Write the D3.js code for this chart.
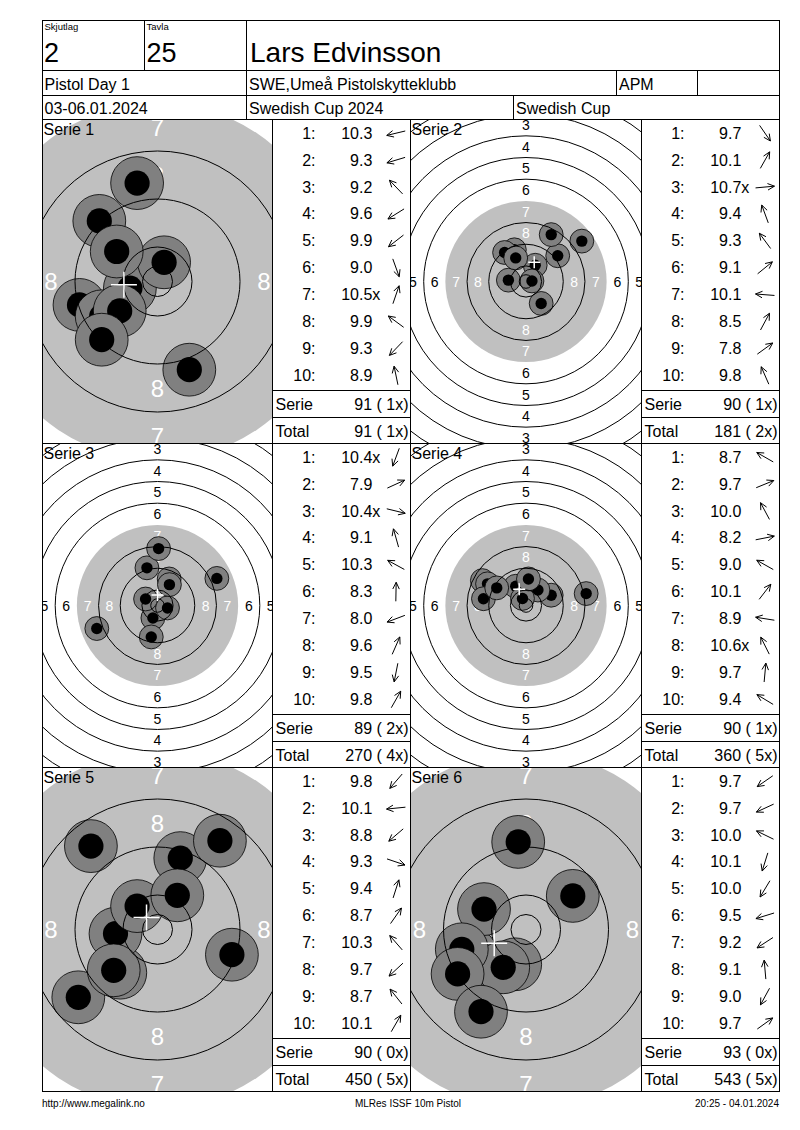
<!DOCTYPE html>
<html>
<head>
<meta charset="utf-8">
<script src="https://cdn.jsdelivr.net/npm/d3@7"></script>
<style>
body { margin: 0; background: #fff; }
svg text { font-family: "Liberation Sans", Arial, sans-serif; fill: #000; }
</style>
</head>
<body>
<div id="sheet"></div>
<script>
// header texts
var squad = "2", lane = "25", shooterName = "Lars Edvinsson";
var eventName = "Pistol Day 1", club = "SWE,Umeå Pistolskytteklubb", shooterClass = "APM";
var dates = "03-06.01.2024", competition = "Swedish Cup 2024", cupName = "Swedish Cup";
var footerLeft = "http://www.megalink.no", footerMid = "MLRes ISSF 10m Pistol", footerRight = "20:25 - 04.01.2024";

var seriesLabels = ["Serie 1", "Serie 2", "Serie 3", "Serie 4", "Serie 5", "Serie 6"];
// targets drawn close-up (the others show the whole target)
var zoomedSeries = [true, false, false, false, true, true];

// scores and shot positions (mm from centre, y up)
var scores1 = ["10.3", "9.3", "9.2", "9.6", "9.9", "9.0", "10.5x", "9.9", "9.3", "8.9"];
var shotX1 = [-4.6, -13.0, -9.7, -9.3, -6.3, 5.3, 1.1, -6.8, -9.3, -3.4];
var shotY1 = [-1.1, -3.9, 10.1, -5.8, -4.9, -14.7, 3.2, 5.0, -9.7, 16.4];

var scores2 = ["9.7", "10.1", "10.7x", "9.4", "9.3", "9.1", "10.1", "8.5", "7.8", "9.8"];
var shotX2 = [5.6, 3.4, 2.2, -4.3, -7.9, 11.7, -6.5, 9.3, 20.6, -3.8];
var shotY2 = [-8.1, 6.0, 0.2, 11.7, 10.7, 9.5, 0.5, 17.3, 14.9, 8.7];

var scores3 = ["10.4x", "7.9", "10.4x", "9.1", "10.3", "8.3", "8.0", "9.6", "9.5", "9.8"];
var shotX3 = [-1.7, 21.9, 3.7, -3.9, -4.4, 0.4, -22.4, 4.3, -2.3, 4.4];
var shotY3 = [-4.6, 10.0, -0.9, 13.9, 2.4, 21.0, -8.5, 9.8, -11.6, 7.7];

var scores4 = ["8.7", "9.7", "10.0", "8.2", "9.0", "10.1", "8.9", "10.6x", "9.7", "9.4"];
var shotX4 = [-16.1, 9.3, -3.8, 22.2, -14.2, 4.4, -15.7, -1.3, 0.9, -10.8];
var shotY4 = [9.2, 3.8, 7.1, 4.4, 8.0, 5.7, 2.5, 2.6, 9.8, 6.5];

var scores5 = ["9.8", "10.1", "8.8", "9.3", "9.4", "8.7", "10.3", "9.7", "8.7", "10.1"];
var shotX5 = [-6.2, -7.0, -13.2, 12.4, 3.8, 10.4, -3.4, -7.3, -11.1, 3.3];
var shotY5 = [-7.2, -0.7, -11.3, -4.2, 11.9, 14.8, 3.9, -6.8, 13.9, 5.7];

var scores6 = ["9.7", "9.7", "10.0", "10.1", "10.0", "9.5", "9.2", "9.1", "9.0", "9.7"];
var shotX6 = [-8.2, -9.1, -7.0, -1.8, -3.8, -10.7, -11.4, -1.3, -7.5, 7.8];
var shotY6 = [-5.7, -4.2, 3.4, -5.8, -6.3, -3.3, -7.4, 14.6, -13.7, 5.6];

var allScores = [scores1, scores2, scores3, scores4, scores5, scores6];
var allX = [shotX1, shotX2, shotX3, shotX4, shotX5, shotX6];
var allY = [shotY1, shotY2, shotY3, shotY4, shotY5, shotY6];

// ISSF 10m pistol target, ring radii in mm
var ringRadii = [77.75, 69.75, 61.75, 53.75, 45.75, 37.75, 21.75, 13.75, 5.75, 2.5];
var blackRadius = 29.75;
var ringNumbers = [1, 2, 3, 4, 5, 6, 7, 8];

var svg = d3.select("#sheet").append("svg")
    .attr("width", 800)
    .attr("height", 1130);

var fs = 16;
var digitW = 0.556 * fs;
var total = 0, totalX = 0;

allScores.forEach(function(scores, k) {
    var col = k % 2, row = Math.floor(k / 2);
    var tx0 = col ? 410.5 : 42.5;
    var tx1 = col ? 641.5 : 272.5;
    var sx0 = tx1, sx1 = col ? 779.5 : 410.5;
    var top = 119.5 + row * 324;
    var ppm = zoomedSeries[k] ? 6 : 2.71;
    var cx = (tx0 + tx1) / 2, cy = top + 162;

    var x = d3.scaleLinear().domain([0, 1]).range([cx, cx + ppm]);
    var y = d3.scaleLinear().domain([0, 1]).range([cy, cy - ppm]);
    var r = d3.scaleLinear().domain([0, 1]).range([0, ppm]);

    svg.append("clipPath").attr("id", "clip" + k)
        .append("rect")
        .attr("x", tx0).attr("y", top)
        .attr("width", tx1 - tx0).attr("height", 324);

    var g = svg.append("g").attr("clip-path", "url(#clip" + k + ")");

    g.append("circle")
        .attr("cx", x(0)).attr("cy", y(0))
        .attr("r", r(blackRadius))
        .attr("fill", "#c0c0c0");

    // ring numbers in four directions, only those whose centre is on the panel
    var lblSize = zoomedSeries[k] ? 24 : 14;
    var dirs = [[0, 1], [0, -1], [-1, 0], [1, 0]];
    ringNumbers.forEach(function(n) {
        var d = 1.75 + (10 - n) * 8;
        var onPanel = dirs.filter(function(dd) {
            var px = x(dd[0] * d), py = y(dd[1] * d);
            return px > tx0 && px < tx1 && py > top && py < top + 324;
        });
        g.selectAll(null)
            .data(onPanel)
            .enter()
            .append("text")
                .attr("x", dd => x(dd[0] * d))
                .attr("y", dd => y(dd[1] * d))
                .attr("dy", "0.36em")
                .attr("text-anchor", "middle")
                .style("font-size", lblSize + "px")
                .style("fill", n >= 7 ? "#fff" : "#000")
                .text(n);
    });

    // shots
    var xs = allX[k], ys = allY[k];
    var shotGroup = g.append("g");
    scores.forEach(function(s, i) {
        shotGroup.append("circle")
            .attr("cx", x(xs[i])).attr("cy", y(ys[i]))
            .attr("r", r(4.4))
            .attr("fill", "#808080")
            .attr("stroke", "#000")
            .attr("stroke-width", 0.8);
        shotGroup.append("circle")
            .attr("cx", x(xs[i])).attr("cy", y(ys[i]))
            .attr("r", r(2.1))
            .attr("fill", "#000");
    });

    g.selectAll(".ring")
        .data(ringRadii)
        .enter()
        .append("circle")
            .attr("class", "ring")
            .attr("cx", x(0)).attr("cy", y(0))
            .attr("r", d => r(d))
            .attr("fill", "none")
            .attr("stroke", "#000")
            .attr("stroke-width", 1);

    // group centre
    var mx = d3.mean(xs), my = d3.mean(ys);
    var arm = zoomedSeries[k] ? 13 : 6;
    g.append("path")
        .attr("d", `M${x(mx) - arm},${y(my)}H${x(mx) + arm}M${x(mx)},${y(my) - arm}V${y(my) + arm}`)
        .attr("stroke", "#fff")
        .attr("stroke-width", 1.5);

    svg.append("text")
        .attr("x", tx0 + 1)
        .attr("y", top + 15)
        .style("font-size", fs + "px")
        .text(seriesLabels[k]);

    // score column
    scores.forEach(function(s, i) {
        var yb = top + 19.2 + i * 26.92;
        svg.append("text")
            .attr("x", sx0 + 43).attr("y", yb)
            .attr("text-anchor", "end")
            .style("font-size", fs + "px")
            .text((i + 1) + ":");
        var intLen = s.split(".")[0].length;
        svg.append("text")
            .attr("x", sx0 + 86.5 - intLen * digitW).attr("y", yb)
            .style("font-size", fs + "px")
            .text(s);

        // direction arrow
        var ang = Math.atan2(-ys[i], xs[i]);
        var ux = Math.cos(ang), uy = Math.sin(ang);
        var acx = sx0 + 123.5, acy = yb - 5.5;
        var tipX = acx + 9.5 * ux, tipY = acy + 9.5 * uy;
        var tailX = acx - 9.5 * ux, tailY = acy - 9.5 * uy;
        var h1 = ang + Math.PI - 0.45, h2 = ang + Math.PI + 0.45;
        svg.append("path")
            .attr("d", `M${tailX},${tailY}L${tipX},${tipY}` +
                `M${tipX + 7.5 * Math.cos(h1)},${tipY + 7.5 * Math.sin(h1)}L${tipX},${tipY}` +
                `L${tipX + 7.5 * Math.cos(h2)},${tipY + 7.5 * Math.sin(h2)}`)
            .attr("fill", "none")
            .attr("stroke", "#000")
            .attr("stroke-width", 1);
    });

    var serieSum = d3.sum(scores, s => Math.floor(parseFloat(s)));
    var serieX = scores.filter(s => s.indexOf("x") >= 0).length;
    total += serieSum;
    totalX += serieX;

    var sumRows = [["Serie", serieSum, serieX], ["Total", total, totalX]];
    sumRows.forEach(function(d, j) {
        var lineY = top + 271 + j * 27;
        svg.append("line")
            .attr("x1", sx0).attr("x2", sx1)
            .attr("y1", lineY).attr("y2", lineY)
            .attr("stroke", "#000");
        svg.append("text")
            .attr("x", sx0 + 3).attr("y", lineY + 19.5)
            .style("font-size", fs + "px")
            .text(d[0]);
        svg.append("text")
            .attr("x", sx1 - 2).attr("y", lineY + 19.5)
            .attr("text-anchor", "end")
            .style("font-size", fs + "px")
            .style("white-space", "pre")
            .text(d[1] + " (" + String(d[2]).padStart(2, " ") + "x)");
    });
});

// frame and grid
var grid = svg.append("g").attr("stroke", "#000").attr("fill", "none");
grid.append("rect")
    .attr("x", 42.5).attr("y", 20.5)
    .attr("width", 737).attr("height", 1071);
[70.5, 95.5, 119.5, 443.5, 767.5].forEach(function(yy) {
    grid.append("line").attr("x1", 42.5).attr("x2", 779.5).attr("y1", yy).attr("y2", yy);
});
var vLines = [[144.5, 20.5, 70.5], [246.5, 20.5, 119.5], [616.5, 70.5, 95.5], [697.5, 70.5, 95.5],
    [513.5, 95.5, 119.5], [272.5, 119.5, 1091.5], [410.5, 119.5, 1091.5], [641.5, 119.5, 1091.5]];
vLines.forEach(function(v) {
    grid.append("line").attr("x1", v[0]).attr("x2", v[0]).attr("y1", v[1]).attr("y2", v[2]);
});

// header text
function addText(txt, xx, yy, size, anchor) {
    svg.append("text")
        .attr("x", xx).attr("y", yy)
        .attr("text-anchor", anchor || "start")
        .style("font-size", size + "px")
        .text(txt);
}
addText("Skjutlag", 44.5, 29.5, 9.5);
addText("Tavla", 146.5, 29.5, 9.5);
addText(squad, 44, 62, 27);
addText(lane, 146.5, 62, 27);
addText(shooterName, 250, 62, 28);
addText(eventName, 44.5, 89.5, 16);
addText(club, 249, 89.5, 16);
addText(shooterClass, 619, 89.5, 16);
addText(dates, 44.5, 114, 16);
addText(competition, 249, 114, 16);
addText(cupName, 516, 114, 16);

addText(footerLeft, 42, 1107, 10);
addText(footerMid, 408, 1107, 10, "middle");
addText(footerRight, 779, 1107, 10, "end");
</script>
</body>
</html>
